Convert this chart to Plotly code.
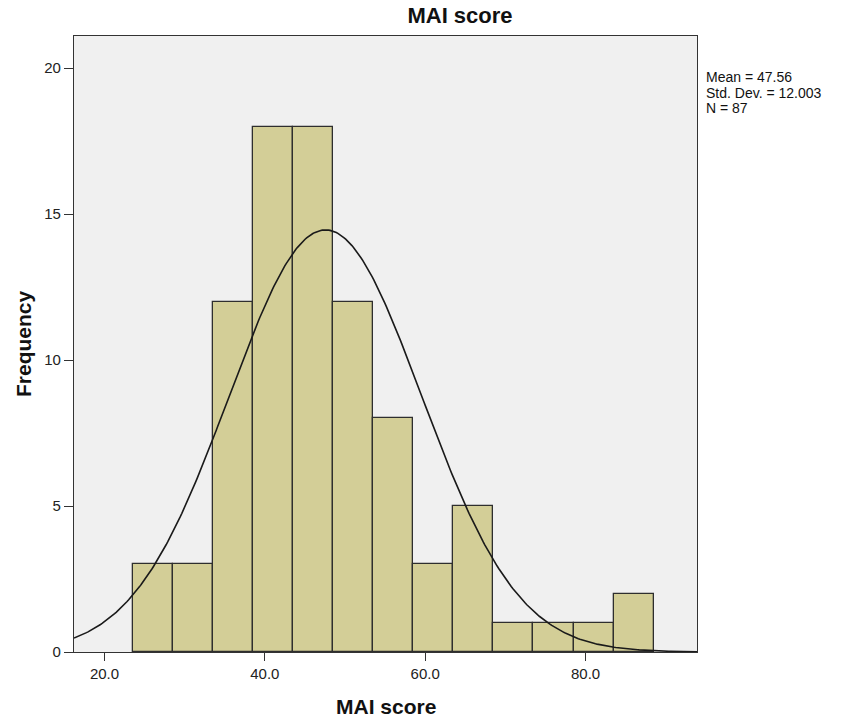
import numpy as np
import plotly.graph_objects as go

# Histogram data (bin width 5, first bin starting at 23.5)
bin_starts = [23.5, 28.5, 33.5, 38.5, 43.5, 48.5, 53.5, 58.5, 63.5, 68.5, 73.5, 78.5, 83.5]
frequencies = [3, 3, 12, 18, 18, 12, 8, 3, 5, 1, 1, 1, 2]
bin_width = 5.0

# Summary statistics shown on the chart
mean_val = 47.56
std_val = 12.003
n_val = 87

x_tick_vals = [20, 40, 60, 80]
x_tick_text = ["20.0", "40.0", "60.0", "80.0"]
y_tick_vals = [0, 5, 10, 15, 20]
y_tick_text = ["0", "5", "10", "15", "20"]

x_range = [16.2, 93.9]
y_range = [0, 21.1]

centers = [s + bin_width / 2 for s in bin_starts]

# Normal curve scaled to frequency (from the shown mean / sd / N)
xc = np.linspace(x_range[0], x_range[1], 400)
yc = n_val * bin_width / (std_val * np.sqrt(2 * np.pi)) * np.exp(-0.5 * ((xc - mean_val) / std_val) ** 2)

W, H = 844, 724
L, R, T, B = 74, 147, 36, 72
plot_w = W - L - R
plot_h = H - T - B

def py(yabs):
    return (H - B - yabs) / plot_h

def px_x(xabs):
    return (xabs - L) / plot_w

fig = go.Figure()
fig.add_trace(go.Bar(
    x=centers, y=frequencies, width=bin_width,
    marker=dict(color="#D3CE97", line=dict(color="#2e2e2e", width=1.3)),
    showlegend=False, hoverinfo="x+y",
))
fig.add_trace(go.Scatter(
    x=xc, y=yc, mode="lines",
    line=dict(color="#1a1a1a", width=1.6),
    showlegend=False, hoverinfo="skip",
))

font_family = "Liberation Sans, Arial, sans-serif"

stats_lines = [f"Mean = {mean_val:.2f}", f"Std. Dev. = {std_val:.3f}", f"N = {n_val}"]
stats_y = [77.0, 92.7, 108.4]
annotations = []
for txt, yy in zip(stats_lines, stats_y):
    annotations.append(dict(
        text=txt, xref="paper", yref="paper", x=px_x(704), y=py(yy),
        xanchor="left", yanchor="middle", showarrow=False,
        font=dict(family=font_family, size=14, color="#111111"),
    ))

# axis titles placed as annotations for exact positioning
annotations.append(dict(
    text="<b>MAI score</b>", xref="paper", yref="paper",
    x=px_x(386), y=py(707), xanchor="center", yanchor="middle", showarrow=False,
    font=dict(family=font_family, size=21, color="#111111"),
))
annotations.append(dict(
    text="<b>Frequency</b>", xref="paper", yref="paper", textangle=-90,
    x=px_x(23), y=py(344), xanchor="center", yanchor="middle", showarrow=False,
    font=dict(family=font_family, size=21, color="#111111"),
))

fig.update_layout(
    width=W, height=H,
    margin=dict(l=L, r=R, t=T, b=B),
    paper_bgcolor="white",
    plot_bgcolor="#F0F0F0",
    bargap=0,
    title=dict(
        text="<b>MAI score</b>", xref="container", yref="container",
        x=460 / W, xanchor="center", y=1 - 15.5 / H, yanchor="middle",
        font=dict(family=font_family, size=22, color="#111111"),
    ),
    xaxis=dict(
        range=x_range, tickvals=x_tick_vals, ticktext=x_tick_text,
        showgrid=False, zeroline=False, automargin=False,
        showline=True, linecolor="#333333", linewidth=1.3, mirror=True,
        ticks="outside", ticklen=8, tickcolor="#333333", tickwidth=1.3,
        tickfont=dict(family=font_family, size=15, color="#222222"),
    ),
    yaxis=dict(
        range=y_range, tickvals=y_tick_vals, ticktext=y_tick_text,
        showgrid=False, zeroline=False, automargin=False,
        showline=True, linecolor="#333333", linewidth=1.3, mirror=True,
        ticks="outside", ticklen=9, tickcolor="#333333", tickwidth=1.3,
        tickfont=dict(family=font_family, size=15, color="#222222"),
    ),
    annotations=annotations,
)

# remove the default 8px page margin so the figure fills the window exactly
fig.write_html(
    "out.html",
    config={"displayModeBar": False},
    post_script="document.body.style.margin='0px';",
)
